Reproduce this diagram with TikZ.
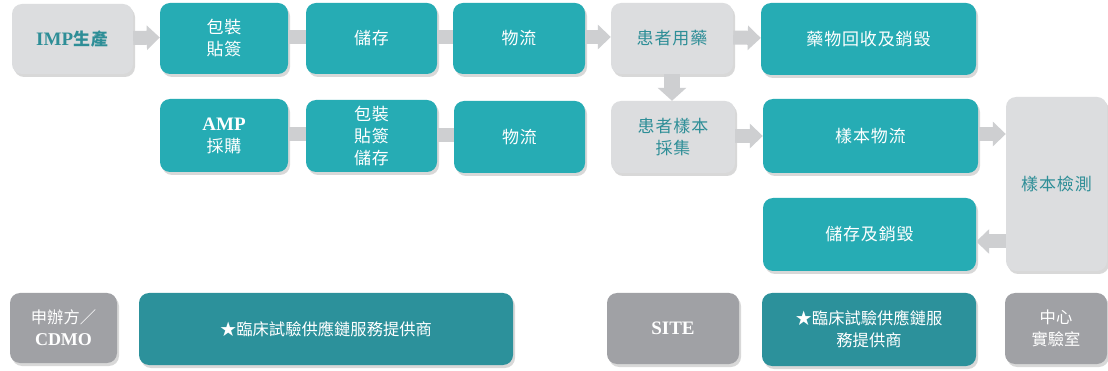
\documentclass[tikz,border=0pt]{standalone}
\usepackage{fontspec}
\setmainfont{Liberation Serif}
\newfontfamily\cjk[LetterSpace=5]{Noto Sans CJK TC}
\newfontfamily\cjkn{Noto Sans CJK TC}
\newcommand\lat[2][19]{{\rmfamily\bfseries\fontsize{#1}{22}\selectfont #2}}
\usetikzlibrary{arrows.meta,shadows}
\definecolor{tealA}{RGB}{38,172,180}
\definecolor{tealB}{RGB}{44,145,155}
\definecolor{grayL}{RGB}{220,221,223}
\definecolor{grayM}{RGB}{160,161,165}
\definecolor{tealT}{RGB}{46,142,151}
\definecolor{arrgray}{RGB}{206,207,209}
\tikzset{
  box/.style={rectangle, rounded corners=10pt, inner sep=0pt, draw=none, align=center,
    drop shadow={shadow xshift=2pt, shadow yshift=-3pt, opacity=0.25, fill=black!60}},
  tbox/.style={box, fill=tealA, text=white, font=\cjk\fontsize{17}{22}\selectfont},
  gbox/.style={box, fill=grayL, text=tealT, font=\cjk\fontsize{17}{22}\selectfont},
  mbox/.style={box, fill=grayM, text=white, font=\cjkn\fontsize{16.3}{22}\selectfont},
  dbox/.style={box, fill=tealB, text=white, font=\cjkn\fontsize{16.3}{22}\selectfont},
  sz/.style 2 args={minimum width=#1pt, minimum height=#2pt},
  bararrow/.style={draw=arrgray, line width=14pt, -{Triangle[width=24pt,length=13pt]}},
  barplain/.style={draw=arrgray, line width=14pt},
  downarrow/.style={draw=arrgray, line width=16pt, -{Triangle[width=28pt,length=13pt]}}
}
\begin{document}
\begin{tikzpicture}[x=1pt,y=-1pt]
\useasboundingbox[fill=white] (0,0) rectangle (1108,371);
% row 1
\node[gbox, sz={121}{70}] (imp) at (72.5,39) {\lat{IMP}\textbf{生產}};
\node[tbox, sz={128}{71}] (pk1) at (224,38.5) {包裝\\貼簽};
\node[tbox, sz={131}{71}] (st1) at (371.5,38.5) {儲存};
\node[tbox, sz={132}{71}] (lg1) at (519,38.5) {物流};
\node[gbox, sz={122}{71}] (pt1) at (672,38.5) {患者用藥};
\node[tbox, sz={215}{72}] (rc) at (868.5,39) {藥物回收及銷毀};
% row 2
\node[tbox, sz={128}{73}] (amp) at (224,135.5) {\lat{AMP}\\採購};
\node[tbox, sz={131}{72}] (pk2) at (371.5,136) {包裝\\貼簽\\儲存};
\node[tbox, sz={131}{72}] (lg2) at (519.5,137) {物流};
\node[gbox, sz={124}{72}] (pt2) at (673,137) {患者樣本\\採集};
\node[tbox, sz={215}{74}] (sl) at (870.5,136) {樣本物流};
\node[gbox, sz={101}{174}] (test) at (1056.5,184) {樣本檢測};
% row 3
\node[tbox, sz={213}{73}] (sd) at (869.5,234.5) {儲存及銷毀};
% row 4
\node[mbox, sz={107}{70}] (sp) at (63.5,328) {申辦方／\\\lat[18]{CDMO}};
\node[dbox, sz={374}{72}] (cs1) at (326,329) {★臨床試驗供應鏈服務提供商};
\node[mbox, sz={132}{71}] (site) at (673,328.5) {\lat{SITE}};
\node[dbox, sz={214}{73}] (cs2) at (869,329.5) {★臨床試驗供應鏈服\\務提供商};
\node[mbox, sz={102}{71}] (cl) at (1056,328.5) {中心\\實驗室};
% connectors
\draw[bararrow] ([yshift=1pt]imp.east) -- ([yshift=1pt]pk1.west);
\draw[barplain] ([yshift=1.5pt]pk1.east) -- ([yshift=1.5pt]st1.west);
\draw[barplain] ([yshift=1.5pt]st1.east) -- ([yshift=1.5pt]lg1.west);
\draw[bararrow] ([yshift=1.5pt]lg1.east) -- ([yshift=1.5pt]pt1.west);
\draw[bararrow] ([yshift=1pt]pt1.east) -- ([yshift=1pt]rc.west);
\draw[downarrow] (pt1.south) -- (pt1.south |- pt2.north);
\draw[barplain] ([yshift=1.5pt]amp.east) -- ([yshift=1.5pt]amp.east -| pk2.west);
\draw[barplain] ([yshift=1pt]pk2.east) -- ([yshift=1pt]pk2.east -| lg2.west);
\draw[bararrow] ([yshift=1pt]pt2.east) -- ([yshift=1pt]pt2.east -| sl.west);
\draw[bararrow] ([yshift=2pt]sl.east) -- ([yshift=2pt]sl.east -| test.west);
\draw[bararrow] ([yshift=-7pt]sd.east -| test.west) -- ([yshift=-7pt]sd.east);
\end{tikzpicture}
\end{document}
